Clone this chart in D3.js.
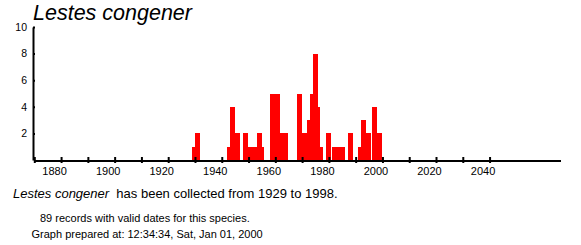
<!DOCTYPE html>
<html>
<head>
<meta charset="utf-8">
<script src="https://cdn.jsdelivr.net/npm/d3@7"></script>
<style>
  body { margin: 0; background: #fff; }
  svg { display: block; font-family: "Liberation Sans", Arial, sans-serif; }
</style>
</head>
<body>
<svg id="chart" width="581" height="245"></svg>
<script>
const species = 'Lestes congener';
const years = [1929, 1930, 1942, 1943, 1945, 1948, 1949, 1951, 1952, 1953, 1954,
  1958, 1959, 1960, 1961, 1962, 1963, 1968, 1970, 1971, 1972, 1973, 1974, 1975,
  1976, 1979, 1981, 1982, 1983, 1984, 1987, 1991, 1992, 1993, 1994, 1996, 1998];
const counts = [1, 2, 1, 4, 2, 2, 1, 1, 1, 2, 1,
  5, 4, 5, 2, 2, 2, 5, 2, 1, 3, 5, 8, 4,
  1, 2, 1, 1, 1, 1, 2, 1, 3, 2, 2, 4, 2];
const yTicks = [2, 4, 6, 8, 10];
const tickYears = d3.range(1870, 2041, 10);
const labelYears = [1880, 1900, 1920, 1940, 1960, 1980, 2000, 2020, 2040];
const firstYear = 1929;
const lastYear = 1998;
const recordCount = 89;
const preparedAt = '12:34:34, Sat, Jan 01, 2000';

const svg = d3.select('#chart');

const x = d3.scaleLinear().domain([1870, 2066.3]).range([34.3, 560]);
const y = d3.scaleLinear().domain([0, 10]).range([160, 27]);
const barWidth = 5;

// title
svg.append('text')
  .attr('x', 33).attr('y', 20)
  .style('font-style', 'italic')
  .style('font-size', '21.5px')
  .text(species);

// bars (drawn first so the axis line sits on top)
const data = years.map((yr, i) => ({ year: yr, count: counts[i] }));
svg.append('g')
  .attr('shape-rendering', 'crispEdges')
  .selectAll('rect')
  .data(data)
  .join('rect')
  .attr('x', (d) => x(d.year))
  .attr('y', (d) => y(d.count))
  .attr('width', barWidth)
  .attr('height', (d) => y(0) - y(d.count))
  .attr('fill', '#ff0000');

// x axis
const xAxis = svg.append('g')
  .attr('transform', `translate(0,${y(0)})`)
  .call(d3.axisBottom(x).tickValues(tickYears).tickFormat('').tickSizeInner(3).tickSizeOuter(0));
xAxis.select('.domain').attr('stroke-width', 2).attr('shape-rendering', 'crispEdges');
xAxis.selectAll('.tick line').attr('y1', -3).attr('stroke-width', 2);

svg.append('g')
  .selectAll('text')
  .data(labelYears)
  .join('text')
  .attr('x', (d) => x(d) - 6.5)
  .attr('y', 175)
  .attr('text-anchor', 'middle')
  .style('font-size', '11px')
  .text((d) => d);

// y axis
const yAxis = svg.append('g')
  .attr('transform', 'translate(33,0)')
  .call(d3.axisLeft(y).tickValues(yTicks).tickSizeInner(2).tickSizeOuter(0).tickPadding(4));
yAxis.attr('font-family', null).attr('font-size', null);
yAxis.select('.domain').attr('stroke-width', 2);
yAxis.selectAll('.tick line').attr('x2', 2).attr('stroke-width', 2);
yAxis.selectAll('.tick text').style('font-size', '10.5px').attr('fill', '#000');

// footer text
const line1 = svg.append('text').attr('x', 13).attr('y', 198).style('font-size', '13px');
line1.append('tspan').style('font-style', 'italic').text(species);
line1.append('tspan').text(`\u00a0 has been collected from ${firstYear} to ${lastYear}.`);

svg.append('text')
  .attr('x', 40).attr('y', 221.5)
  .style('font-size', '11px')
  .text(`${recordCount} records with valid dates for this species.`);

svg.append('text')
  .attr('x', 31.5).attr('y', 238)
  .style('font-size', '11px')
  .text(`Graph prepared at: ${preparedAt}`);
</script>
</body>
</html>
